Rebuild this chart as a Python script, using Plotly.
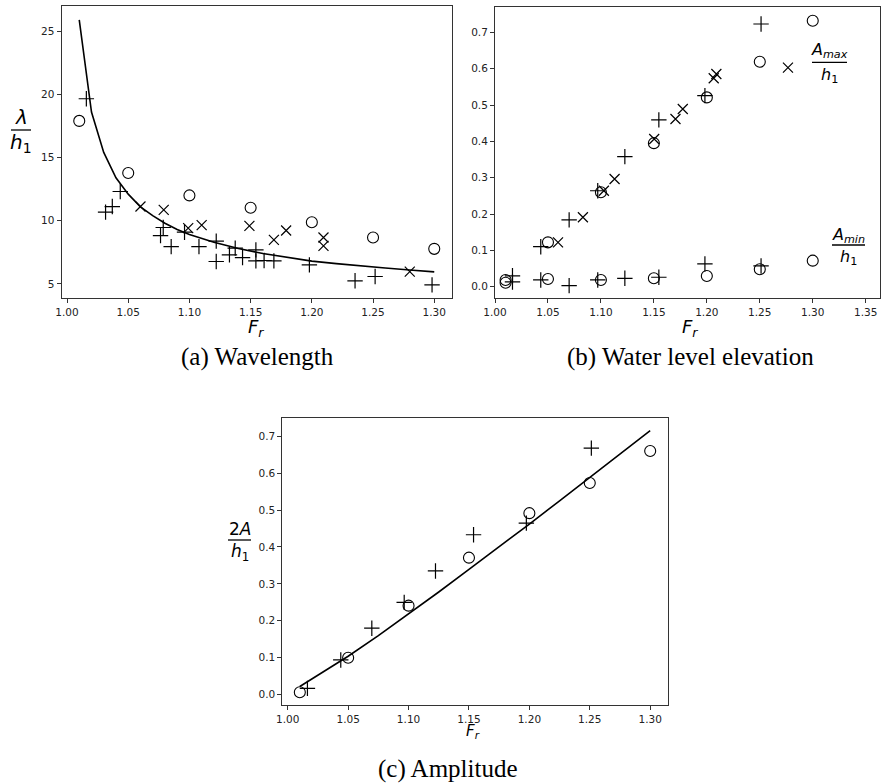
import plotly.graph_objects as go

W, H = 882, 784

# ---------------- (a) Wavelength ----------------
a_circ_fr = [1.01, 1.05, 1.10, 1.15, 1.20, 1.25, 1.30]
a_circ_lam = [17.9, 13.77, 12.0, 11.02, 9.88, 8.67, 7.77]
a_x_fr = [1.060, 1.079, 1.099, 1.110, 1.149, 1.169, 1.179, 1.2095, 1.2095, 1.280]
a_x_lam = [11.12, 10.86, 9.41, 9.65, 9.59, 8.48, 9.22, 8.67, 8.0, 5.97]
a_p_fr = [1.0158, 1.0315, 1.037, 1.0435, 1.0764, 1.0786, 1.0851, 1.096, 1.1078, 1.1219,
          1.1219, 1.1327, 1.1374, 1.1434, 1.1543, 1.1543, 1.161, 1.169, 1.198, 1.2353,
          1.2517, 1.2982]
a_p_lam = [19.65, 10.68, 11.12, 12.31, 8.82, 9.46, 7.95, 9.09, 7.95, 8.38,
           6.77, 7.30, 7.83, 7.08, 7.69, 6.82, 6.85, 6.82, 6.50, 5.24,
           5.58, 4.92]
a_curve_fr = [1.01, 1.02, 1.03, 1.04, 1.05, 1.06, 1.07, 1.08, 1.09, 1.10, 1.12, 1.14,
              1.16, 1.18, 1.20, 1.22, 1.24, 1.26, 1.28, 1.30]
a_curve_lam = [25.9, 18.6, 15.4, 13.4, 12.1, 11.1, 10.4, 9.8, 9.3, 8.9, 8.3, 7.8,
               7.4, 7.1, 6.8, 6.6, 6.4, 6.25, 6.1, 5.95]

# ---------------- (b) Water level elevation ----------------
b_circ_fr = [1.01, 1.05, 1.10, 1.15, 1.20, 1.25, 1.30]
b_circ_max = [0.0185, 0.122, 0.260, 0.395, 0.521, 0.619, 0.732]
b_circ_min = [0.011, 0.021, 0.0185, 0.023, 0.0295, 0.048, 0.0716]
b_x_fr = [1.0595, 1.083, 1.1028, 1.1129, 1.1503, 1.1704, 1.1773, 1.2065, 1.209, 1.2766]
b_x_max = [0.122, 0.191, 0.264, 0.2965, 0.4066, 0.4616, 0.489, 0.5736, 0.5855, 0.603]
b_p_fr = [1.0165, 1.0432, 1.070, 1.097, 1.1226, 1.1547, 1.1982, 1.2512]
b_p_max = [0.030, 0.110, 0.184, 0.264, 0.358, 0.459, 0.526, 0.723]
b_p_min = [0.013, 0.0185, 0.003, 0.0185, 0.023, 0.026, 0.0625, 0.057]

# ---------------- (c) Amplitude ----------------
c_circ_fr = [1.01, 1.05, 1.10, 1.15, 1.20, 1.25, 1.30]
c_circ_amp = [0.0065, 0.100, 0.241, 0.371, 0.4915, 0.573, 0.660]
c_p_fr = [1.0163, 1.0439, 1.0696, 1.0964, 1.1223, 1.1538, 1.1975, 1.2513]
c_p_amp = [0.017, 0.094, 0.180, 0.250, 0.335, 0.433, 0.4645, 0.6677]
c_curve_fr = [1.01, 1.03, 1.05, 1.075, 1.10, 1.125, 1.15, 1.175, 1.20, 1.225, 1.25, 1.275, 1.30]
c_curve_amp = [0.022, 0.063, 0.104, 0.160, 0.218, 0.278, 0.339, 0.400, 0.462, 0.525, 0.588, 0.652, 0.715]

x_ticks_a = [1.00, 1.05, 1.10, 1.15, 1.20, 1.25, 1.30]
y_ticks_a = [5, 10, 15, 20, 25]
x_ticks_b = [1.00, 1.05, 1.10, 1.15, 1.20, 1.25, 1.30, 1.35]
y_ticks_b = [0.0, 0.1, 0.2, 0.3, 0.4, 0.5, 0.6, 0.7]

BLK = "black"
circ = dict(symbol="circle-open", size=11, color=BLK, line=dict(width=1.1, color=BLK))
xm = dict(symbol="x-thin-open", size=10, color=BLK, line=dict(width=1.2, color=BLK))
pm = dict(symbol="cross-thin-open", size=11, color=BLK, line=dict(width=1.2, color=BLK))

fig = go.Figure()

def sc(x, y, mk, xa, ya):
    fig.add_trace(go.Scatter(x=x, y=y, mode="markers", marker=mk, xaxis=xa, yaxis=ya,
                             showlegend=False, cliponaxis=False))

def ln(x, y, xa, ya):
    fig.add_trace(go.Scatter(x=x, y=y, mode="lines", line=dict(color=BLK, width=1.6),
                             xaxis=xa, yaxis=ya, showlegend=False))

ln(a_curve_fr, a_curve_lam, "x", "y")
sc(a_circ_fr, a_circ_lam, circ, "x", "y")
sc(a_x_fr, a_x_lam, xm, "x", "y")
sc(a_p_fr, a_p_lam, pm, "x", "y")

sc(b_circ_fr, b_circ_max, circ, "x2", "y2")
sc(b_circ_fr, b_circ_min, circ, "x2", "y2")
sc(b_x_fr, b_x_max, xm, "x2", "y2")
sc(b_p_fr, b_p_max, pm, "x2", "y2")
sc(b_p_fr, b_p_min, pm, "x2", "y2")

ln(c_curve_fr, c_curve_amp, "x3", "y3")
sc(c_circ_fr, c_circ_amp, circ, "x3", "y3")
sc(c_p_fr, c_p_amp, pm, "x3", "y3")

TF = dict(family="DejaVu Sans", size=10.5, color="#222")
ax_common = dict(showline=True, linecolor="#333", linewidth=1, mirror=True, ticks="outside",
                 ticklen=4, tickwidth=1, tickcolor="#333", showgrid=False, zeroline=False,
                 tickfont=TF, automargin=False)

def px(v):
    return v / W

def py(v):
    return 1 - v / H

layout = dict(
    width=W, height=H, margin=dict(l=0, r=0, t=0, b=0, pad=0), autosize=False,
    template="none",
    paper_bgcolor="white", plot_bgcolor="white",
    xaxis=dict(ax_common, domain=[px(61.5), px(452)], range=[0.9955, 1.3145],
               tickvals=x_ticks_a, tickformat=".2f", anchor="y"),
    yaxis=dict(ax_common, domain=[py(298), py(6.3)], range=[3.88, 26.97],
               tickvals=y_ticks_a, anchor="x"),
    xaxis2=dict(ax_common, domain=[px(495), px(880)], range=[1.0, 1.3635],
                tickvals=x_ticks_b, tickformat=".2f", anchor="y2"),
    yaxis2=dict(ax_common, domain=[py(298.3), py(7.3)], range=[-0.032, 0.769],
                tickvals=y_ticks_b, tickformat=".1f", anchor="x2"),
    xaxis3=dict(ax_common, domain=[px(282.3), px(667.7)], range=[0.9955, 1.3145],
                tickvals=x_ticks_a, tickformat=".2f", anchor="y3"),
    yaxis3=dict(ax_common, domain=[py(705), py(417.7)], range=[-0.028, 0.750],
                tickvals=y_ticks_b, tickformat=".1f", anchor="x3"),
)
fig.update_layout(**layout)

MF = "DejaVu Sans"
anns = []
shapes = []

def txt(x, y, t, size, family=MF, xanchor="center"):
    anns.append(dict(x=px(x), y=py(y), xref="paper", yref="paper", text=t, showarrow=False,
                     xanchor=xanchor, yanchor="middle",
                     font=dict(family=family, size=size, color=BLK)))

def frac(xc, num, den, y_num, y_line, y_den, x0, x1, size):
    txt(xc, y_num, num, size)
    txt(xc, y_den, den, size)
    shapes.append(dict(type="line", xref="paper", yref="paper", x0=px(x0), x1=px(x1),
                       y0=py(y_line), y1=py(y_line), line=dict(color=BLK, width=1.3)))

# axis titles F_r
FR = "<i>F</i><sub><i>r</i></sub>"
txt(256, 328, FR, 18)
txt(690, 328, FR, 18)
txt(473, 731, FR, 15)

# y-labels as fractions
frac(21, "<i>λ</i>", "<i>h</i><sub>1</sub>", 117, 130, 143, 11, 31, 20)
frac(239.5, "2<i>A</i>", "<i>h</i><sub>1</sub>", 529, 540, 552, 228, 251, 17)
frac(829.5, "<i>A</i><sub><i>max</i></sub>", "<i>h</i><sub>1</sub>", 50, 62.3, 75, 812, 847, 16)
frac(848.5, "<i>A</i><sub><i>min</i></sub>", "<i>h</i><sub>1</sub>", 235, 245, 257, 832, 865, 16)

# captions
CF = "Liberation Serif"
txt(257, 357, "(a) Wavelength", 25, CF)
txt(690, 357, "(b) Water level elevation", 25, CF)
txt(448, 769, "(c) Amplitude", 25, CF)

fig.update_layout(annotations=anns, shapes=shapes)
fig.write_html("out.html", config={"displayModeBar": False},
               post_script="document.body.style.margin='0';document.body.style.overflow='hidden';")
